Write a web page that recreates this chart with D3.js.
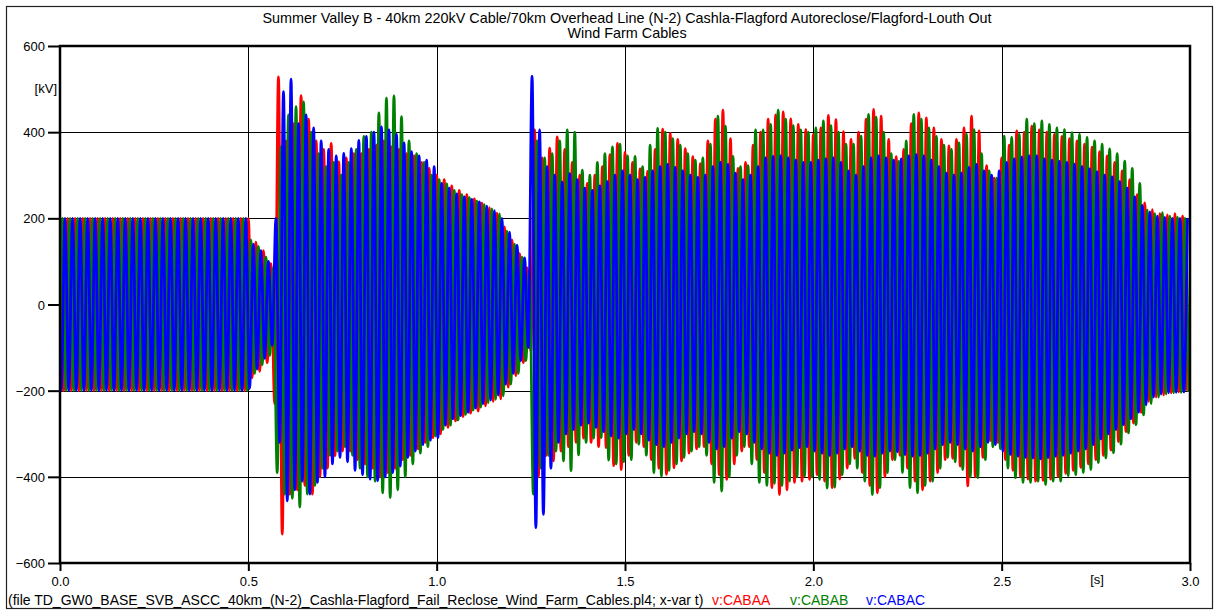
<!DOCTYPE html>
<html>
<head>
<meta charset="utf-8">
<script src="https://cdn.jsdelivr.net/npm/d3@7"></script>
<style>
  body { margin: 0; background: #fff; }
  svg { display: block; }
  text { font-family: "Liberation Sans", Arial, sans-serif; fill: #000; }
</style>
</head>
<body>
<svg id="chart" width="1214" height="611"></svg>
<script>
// ---- text ----
const titleLines = [
  "Summer Valley B - 40km 220kV Cable/70km Overhead Line (N-2) Cashla-Flagford Autoreclose/Flagford-Louth Out",
  "Wind Farm Cables"
];
const fileNote = "(file TD_GW0_BASE_SVB_ASCC_40km_(N-2)_Cashla-Flagford_Fail_Reclose_Wind_Farm_Cables.pl4; x-var t)";
const seriesNames = ["v:CABAA", "v:CABAB", "v:CABAC"];
const seriesColors = ["#ff0000", "#008000", "#0000ff"];
const yUnit = "[kV]";
const xUnit = "[s]";

// ---- axes ----
const xTicks = [0, 0.5, 1.0, 1.5, 2.0, 2.5, 3.0];
const yTicks = [-600, -400, -200, 0, 200, 400, 600];
const yGrid = [-400, -200, 0, 200, 400];
const xGrid = [0.5, 1.0, 1.5, 2.0, 2.5];

// ---- waveform peaks, one value per 50 Hz cycle (kV) ----
const cycle = 0.02;                 // s
const phaseLag = cycle / 3;         // 120 degrees
const greenStart = -100, blueStart = -100;   // values at t = 0

// phase A (red): maxima at k*cycle, minima half a cycle later
const redHi = [
  200,200,200,200,200,200,200,200,200,200,200,200,200,200,200,200,200,200,200,200,200,200,200,200,200,
  200,145,125,95,528,
  380,420,485,430,380,360,374,331,340,350,
  350,360,370,380,366,360,350,345,330,316,
  300,290,275,265,255,245,235,225,212,180,
  150,118,85,405,340,363,389,360,330,300,
  281,300,320,348,374,353,330,315,309,360,
  407,397,383,362,343,327,380,430,451,385,
  316,330,370,400,430,440,447,431,418,406,
  395,410,439,429,401,383,400,430,453,437,
  383,343,360,420,445,433,410,383,368,383,
  410,437,403,322,293,340,370,403,400,414,
  405,400,395,390,385,380,372,365,355,345,
  330,310,290,255,236,220,211,208,211,205
];
const redLo = [
  -200,-200,-200,-200,-200,-200,-200,-200,-200,-200,-200,-200,-200,-200,-200,-200,-200,-200,-200,-200,-200,-200,-200,-200,-200,
  -170,-155,-135,-230,-533,
  -440,-430,-420,-440,-400,-380,-351,-340,-340,-360,
  -370,-380,-400,-390,-380,-360,-350,-335,-320,-309,
  -300,-285,-270,-260,-252,-247,-235,-225,-219,-192,
  -165,-135,-107,-400,-351,-363,-340,-330,-320,-310,
  -320,-330,-332,-374,-383,-350,-320,-330,-360,-380,
  -394,-379,-363,-345,-335,-330,-370,-395,-406,-370,
  -340,-330,-360,-390,-425,-441,-430,-413,-410,-406,
  -395,-410,-425,-405,-380,-357,-390,-420,-437,-400,
  -360,-350,-380,-410,-430,-410,-390,-360,-357,-375,
  -421,-400,-355,-316,-320,-360,-385,-400,-405,-410,
  -408,-405,-400,-392,-385,-378,-370,-360,-350,-338,
  -318,-295,-275,-250,-225,-215,-210,-205,-203,-200
];

// phase B (green): maxima one third of a cycle after phase A
const greenHi = [
  200,200,200,200,200,200,200,200,200,200,200,200,200,200,200,200,200,200,200,200,200,200,200,200,200,
  150,135,110,85,366,
  440,459,470,400,350,320,330,300,330,360,
  390,400,445,479,484,436,380,350,330,300,
  290,280,265,255,248,240,232,222,210,170,
  140,110,80,380,340,350,380,405,400,312,
  300,330,350,366,372,345,344,320,370,409,
  400,385,370,350,335,340,372,437,414,344,
  320,322,405,405,418,451,430,415,405,400,
  410,426,415,400,372,372,391,441,435,400,
  350,332,380,441,430,410,390,370,360,375,
  395,406,350,310,293,391,388,395,430,420,
  426,418,410,406,399,395,388,380,372,361,
  350,333,316,281,219,211,213,205,203,200
];
const greenLo = [
  -200,-200,-200,-200,-200,-200,-200,-200,-200,-200,-200,-200,-200,-200,-200,-200,-200,-200,-200,-200,-200,-200,-200,-200,-200,
  -160,-140,-118,-390,-440,
  -450,-470,-440,-420,-380,-350,-340,-330,-350,-380,
  -400,-410,-437,-448,-430,-400,-370,-345,-330,-305,
  -290,-280,-268,-255,-245,-238,-228,-220,-212,-185,
  -160,-130,-440,-380,-350,-340,-363,-386,-349,-320,
  -310,-309,-361,-370,-365,-360,-324,-350,-390,-398,
  -385,-370,-355,-340,-330,-350,-413,-433,-400,-350,
  -330,-370,-413,-420,-415,-420,-410,-400,-398,-400,
  -406,-426,-424,-395,-370,-380,-410,-441,-425,-390,
  -360,-390,-425,-437,-420,-410,-380,-355,-365,-383,
  -400,-402,-360,-330,-335,-380,-402,-413,-413,-410,
  -418,-410,-410,-397,-395,-390,-383,-367,-356,-344,
  -324,-298,-279,-256,-230,-215,-208,-205,-204,-203
];

// phase C (blue): minima one sixth of a cycle after phase A maxima
const blueLo = [
  -200,-200,-200,-200,-200,-200,-200,-200,-200,-200,-200,-200,-200,-200,-200,-200,-200,-200,-200,-200,-200,-200,-200,-200,-200,
  -195,-150,-125,-95,-320,
  -456,-430,-410,-440,-413,-400,-370,-355,-365,-385,
  -395,-405,-409,-400,-390,-375,-355,-340,-325,-315,
  -309,-280,-265,-258,-250,-240,-230,-222,-210,-185,
  -160,-130,-100,-518,-487,-380,-320,-300,-290,-280,
  -275,-285,-295,-305,-310,-300,-290,-300,-315,-325,
  -330,-320,-310,-300,-295,-300,-320,-335,-330,-310,
  -295,-300,-320,-335,-345,-350,-345,-338,-332,-330,
  -340,-345,-350,-345,-335,-330,-340,-350,-352,-345,
  -340,-342,-348,-352,-350,-345,-335,-325,-320,-325,
  -335,-340,-330,-320,-325,-340,-348,-352,-355,-356,
  -358,-355,-352,-350,-345,-340,-335,-325,-312,-300,
  -290,-279,-265,-250,-233,-215,-208,-205,-204,-203
];
const blueHi = [
  200,200,200,200,200,200,200,200,200,200,200,200,200,200,200,200,200,200,200,200,200,200,200,200,200,
  140,125,100,200,494,
  523,420,440,410,380,360,345,351,362,381,
  390,400,412,405,395,375,355,345,335,320,
  281,270,257,250,244,238,228,218,200,168,
  138,108,530,405,320,300,284,304,290,270,
  265,275,285,300,310,300,290,295,310,320,
  325,318,310,300,295,300,320,330,325,305,
  290,300,320,340,344,345,340,335,330,330,
  335,338,340,330,310,300,320,340,345,340,
  335,338,345,348,345,335,320,305,300,305,
  318,325,310,300,310,330,338,342,345,345,
  338,335,332,330,326,320,315,308,300,296,
  285,270,250,230,215,205,202,200,200,200
];

// ---- layout ----
const W = 1214, H = 611;
const plot = { left: 60, right: 1190, top: 46, bottom: 563 };

const x = d3.scaleLinear().domain([0, 3]).range([plot.left, plot.right]);
const y = d3.scaleLinear().domain([-600, 600]).range([plot.bottom, plot.top]);

const svg = d3.select("#chart");

// outer border
svg.append("rect")
  .attr("x", 6.5).attr("y", 6.5)
  .attr("width", W - 8).attr("height", H - 9)
  .attr("fill", "none").attr("stroke", "#222").attr("stroke-width", 1.2);

// titles
svg.selectAll("text.title").data(titleLines).enter().append("text")
  .attr("class", "title")
  .attr("x", (plot.left + plot.right) / 2 + 2)
  .attr("y", (d, i) => 23 + i * 15)
  .attr("text-anchor", "middle")
  .attr("font-size", 14.4)
  .text(d => d);

// grid
const grid = svg.append("g").attr("stroke", "#000").attr("stroke-width", 1);
grid.selectAll("line.gy").data(yGrid).enter().append("line")
  .attr("x1", plot.left).attr("x2", plot.right)
  .attr("y1", d => Math.round(y(d)) + 0.5).attr("y2", d => Math.round(y(d)) + 0.5);
grid.selectAll("line.gx").data(xGrid).enter().append("line")
  .attr("y1", plot.top).attr("y2", plot.bottom)
  .attr("x1", d => Math.round(x(d)) + 0.5).attr("x2", d => Math.round(x(d)) + 0.5);

// waveforms
svg.append("clipPath").attr("id", "plotClip").append("rect")
  .attr("x", plot.left).attr("y", plot.top)
  .attr("width", plot.right - plot.left).attr("height", plot.bottom - plot.top);

function peaks(first, firstOffset, second, secondOffset, start) {
  const pts = [];
  if (start !== null) pts.push([0, start]);
  for (let k = 0; k < first.length; k++) {
    pts.push([k * cycle + firstOffset, first[k]]);
    pts.push([k * cycle + secondOffset, second[k]]);
  }
  return pts;
}

const series = [
  peaks(redHi, 0, redLo, cycle / 2, null),
  peaks(greenHi, phaseLag, greenLo, phaseLag + cycle / 2, greenStart),
  peaks(blueLo, phaseLag / 2, blueHi, phaseLag / 2 + cycle / 2, blueStart)
];

const line = d3.line()
  .x(d => x(d[0]))
  .y(d => y(d[1]))
  .curve(d3.curveMonotoneX);

svg.append("g").attr("clip-path", "url(#plotClip)")
  .selectAll("path").data(series).enter().append("path")
  .attr("d", line)
  .attr("fill", "none")
  .attr("stroke", (d, i) => seriesColors[i])
  .attr("stroke-width", 2.8)
  .attr("stroke-linejoin", "round");

// axes
const yAxis = d3.axisLeft(y).tickValues(yTicks).tickSize(12).tickPadding(3)
  .tickFormat(d3.format("d"));
const gy = svg.append("g").attr("transform", `translate(${plot.left},0)`).call(yAxis);
const xAxis = d3.axisBottom(x).tickValues(xTicks).tickSize(8).tickPadding(6)
  .tickFormat(d3.format(".1f"));
const gx = svg.append("g").attr("transform", `translate(0,${plot.bottom})`).call(xAxis);
[gx, gy].forEach(g => {
  g.select(".domain").remove();
  g.selectAll(".tick line").attr("stroke", "#000").attr("stroke-width", 2);
  g.selectAll(".tick text").attr("font-size", 13).attr("font-family", "Liberation Sans, Arial, sans-serif").attr("fill", "#000");
});
gy.selectAll(".tick text").attr("dy", "0.35em");

// frame
svg.append("rect")
  .attr("x", plot.left).attr("y", plot.top)
  .attr("width", plot.right - plot.left).attr("height", plot.bottom - plot.top)
  .attr("fill", "none").attr("stroke", "#000").attr("stroke-width", 2.5);

// unit labels
svg.append("text").attr("x", 57).attr("y", 93).attr("text-anchor", "end")
  .attr("font-size", 13).text(yUnit);
svg.append("text").attr("x", 1097).attr("y", 584).attr("text-anchor", "middle")
  .attr("font-size", 13).text(xUnit);

// footer with legend
svg.append("text").attr("x", 8).attr("y", 605).attr("font-size", 14).text(fileNote);
const legendX = [712, 790, 866];
svg.selectAll("text.leg").data(seriesNames).enter().append("text")
  .attr("class", "leg")
  .attr("x", (d, i) => legendX[i]).attr("y", 605)
  .attr("font-size", 14)
  .style("fill", (d, i) => seriesColors[i])
  .text(d => d);
</script>
</body>
</html>
